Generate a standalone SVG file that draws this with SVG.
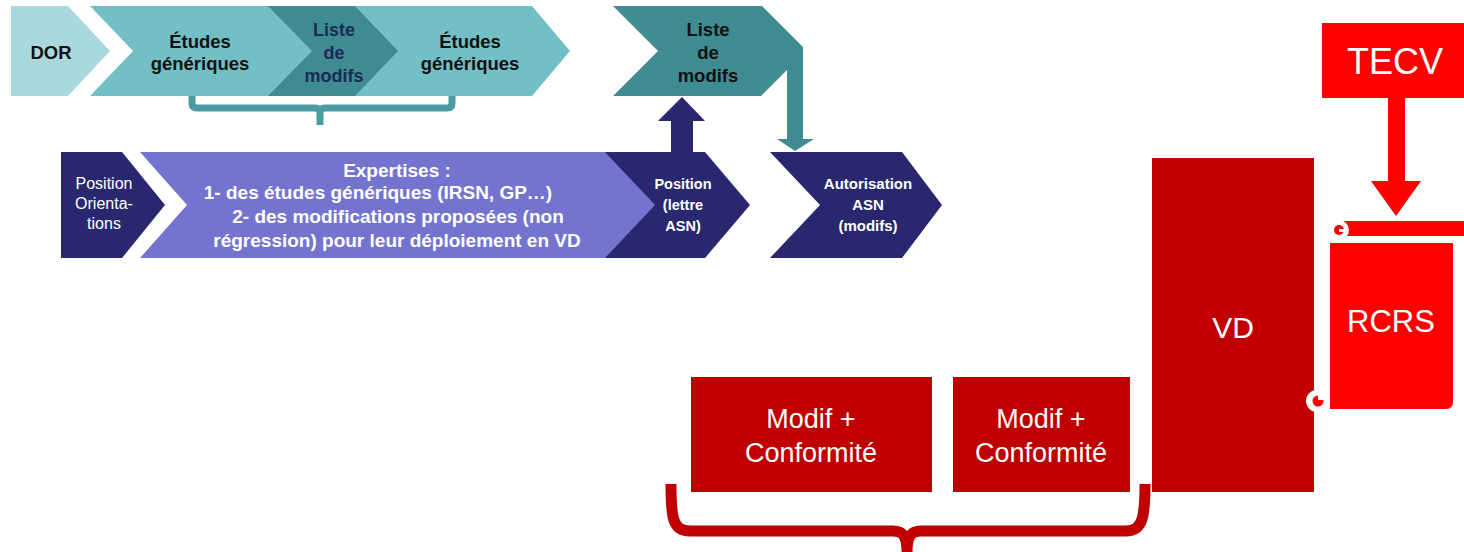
<svg xmlns="http://www.w3.org/2000/svg" width="1464" height="552" viewBox="0 0 1464 552">
<defs>
<style>
.b{font-family:"Liberation Sans",Arial,sans-serif;font-weight:bold;text-anchor:middle}
.r{font-family:"Liberation Sans",Arial,sans-serif;text-anchor:middle;fill:#fff}
.top{font-size:18.5px;fill:#111}
.nav{fill:#1d2a58;font-size:18px}
.w{fill:#fff}
.teal{fill:#72bfc6}
.dteal{fill:#3e8b91}
.navy{fill:#29286e}
.dred{fill:#c00000}
.bred{fill:#ff0000}
</style>
</defs>
<rect width="1464" height="552" fill="#fff"/>

<g id="dor">
<polygon points="11,6 68,6 110,51 68,96 11,96" fill="#a9d8de"/>
<text class="b top" x="51" y="59">DOR</text>
</g>
<g id="etudes2">
<polygon class="teal" points="350,6 532,6 570,51 532,96 350,96"/>
<text class="b top" x="470" y="48">Études</text>
<text class="b top" x="470" y="70">génériques</text>
</g>
<g id="liste1">
<polygon class="dteal" points="268,6 355,6 398,51 355,96 268,96"/>
<text class="b nav" x="334" y="36">Liste</text>
<text class="b nav" x="334" y="59">de</text>
<text class="b nav" x="334" y="82">modifs</text>
</g>
<g id="etudes1">
<polygon class="teal" points="90,6 268,6 312,51 268,96 90,96 133,51"/>
<text class="b top" x="200" y="48">Études</text>
<text class="b top" x="200" y="70">génériques</text>
</g>
<g id="liste2">
<polygon class="dteal" points="613,6 762,6 803,47 803,139 814,139 795,151 777,139 787,139 787,70 761,96 613,96 658,51"/>
<text class="b top" x="708" y="36">Liste</text>
<text class="b top" x="708" y="59">de</text>
<text class="b top" x="708" y="82">modifs</text>
</g>

<g id="position">
<polygon class="navy" points="61,152 122,152 165,205 122,258 61,258"/>
<text class="r" font-size="16" x="104" y="189">Position</text>
<text class="r" font-size="16" x="104" y="209">Orienta-</text>
<text class="r" font-size="16" x="104" y="229">tions</text>
</g>
<g id="positionasn">
<polygon class="navy" points="605,152 705,152 750,205 705,258 605,258"/>
<text class="b w" font-size="14.5" x="683" y="189">Position</text>
<text class="b w" font-size="14.5" x="683" y="210">(lettre</text>
<text class="b w" font-size="14.5" x="683" y="231">ASN)</text>
</g>
<g id="expertises">
<polygon points="140,152 605,152 655,205 605,258 140,258 187,205" fill="#7474d0"/>
<text class="b w" font-size="19" x="397" y="177">Expertises :</text>
<text class="b w" font-size="19" x="378" y="199">1- des études génériques (IRSN, GP…)</text>
<text class="b w" font-size="19" x="398" y="223">2- des modifications proposées (non</text>
<text class="b w" font-size="19" x="397" y="247">régression) pour leur déploiement en VD</text>
</g>
<g id="autorisation">
<polygon class="navy" points="770,152 902,152 942,205 902,258 770,258 820,205"/>
<text class="b w" font-size="15" x="868" y="189">Autorisation</text>
<text class="b w" font-size="15" x="868" y="210">ASN</text>
<text class="b w" font-size="15" x="868" y="231">(modifs)</text>
</g>

<g id="modif1">
<rect class="dred" x="691" y="377" width="241" height="115"/>
<text class="r" font-size="27" x="811" y="428">Modif +</text>
<text class="r" font-size="27" x="811" y="462">Conformité</text>
</g>
<g id="modif2">
<rect class="dred" x="953" y="377" width="177" height="115"/>
<text class="r" font-size="27" x="1041" y="428">Modif +</text>
<text class="r" font-size="27" x="1041" y="462">Conformité</text>
</g>
<g id="vd">
<rect class="dred" x="1152" y="158" width="162" height="334"/>
<text class="r" font-size="30" x="1233" y="338">VD</text>
</g>
<g id="tecv">
<rect class="bred" x="1322" y="23" width="142" height="75"/>
<text class="r" font-size="36" x="1395" y="74">TECV</text>
</g>
<g id="rcrs">
<rect class="bred" x="1338" y="221" width="126" height="15"/>
<path class="bred" d="M1330 243 H1453 V402 Q1453 409 1446 409 H1330 Z"/>
<circle cx="1339" cy="230" r="10" fill="#fff"/>
<circle cx="1339" cy="230" r="5" class="bred"/>
<rect x="1339" y="229" width="8" height="3" fill="#fff"/>
<circle cx="1317" cy="401" r="11" fill="#fff"/>
<circle cx="1318" cy="401" r="5.5" class="bred"/>
<rect x="1318" y="395" width="7" height="5" fill="#fff"/>
<text class="r" font-size="31" x="1391" y="332">RCRS</text>
</g>

<g id="connectors">
<polygon class="navy" points="671,153 671,121 658,121 682,97 705,121 693,121 693,153"/>
<polygon class="bred" points="1388,98 1405,98 1405,181 1421,181 1396,216 1371,181 1388,181"/>
<path d="M192 96 V103 Q192 108 197 108 H315 Q320 108 320 113 V125 M320 113 Q320 108 325 108 H447 Q452 108 452 103 V96" fill="none" stroke="#4a9aa1" stroke-width="7"/>
<path d="M671 484 C671 516 672 531 690 531 H893 C903 531 907 536 907 552 M907 552 C907 536 911 531 921 531 H1126 C1143 531 1145 516 1145 484" fill="none" stroke="#c00000" stroke-width="11"/>
</g>
</svg>
